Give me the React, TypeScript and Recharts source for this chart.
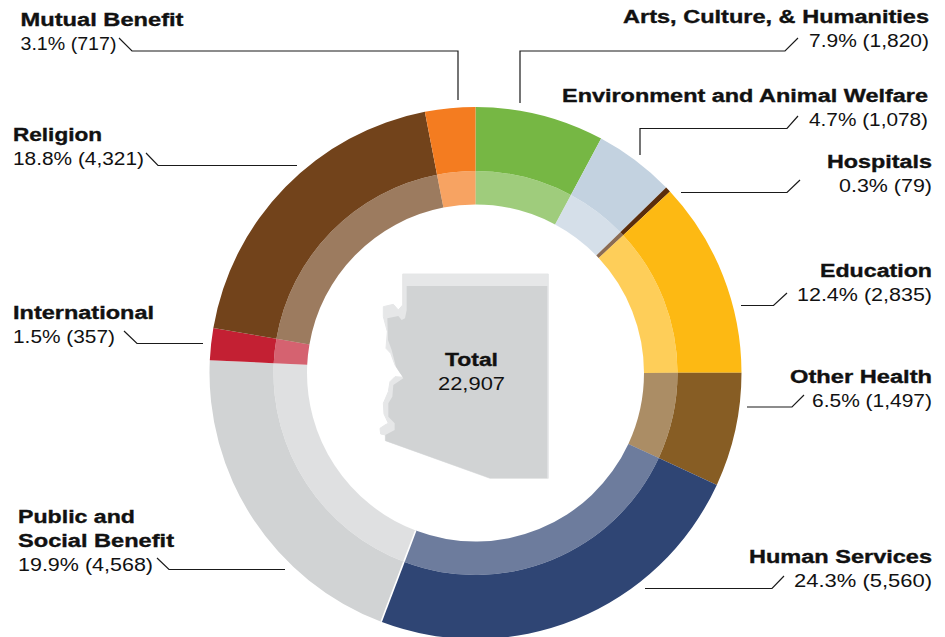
import { PieChart, Pie, Cell, Sector } from 'recharts';

const CATEGORIES = [
    ['Arts, Culture, & Humanities'],
    ['Environment and Animal Welfare'],
    ['Hospitals'],
    ['Education'],
    ['Other Health'],
    ['Human Services'],
    ['Public and', 'Social Benefit'],
    ['International'],
    ['Religion'],
    ['Mutual Benefit'],
];
const PERCENT_LABELS = ['7.9%', '4.7%', '0.3%', '12.4%', '6.5%', '24.3%', '19.9%', '1.5%', '18.8%', '3.1%'];
const COUNT_LABELS = ['1,820', '1,078', '79', '2,835', '1,497', '5,560', '4,568', '357', '4,321', '717'];

// arc shares as measured on the picture, they differ slightly from the printed percentages
const ARC_SHARES = [7.83, 4.89, 0.33, 11.94, 6.92, 23.86, 20.0, 1.94, 19.24, 3.05];

const COLORS = [
    '#76b744', // Arts
    '#c3d2e0', // Environment
    '#5a2d0c', // Hospitals
    '#fdb913', // Education
    '#875d24', // Other Health
    '#2f4574', // Human Services
    '#d1d3d4', // Public and Social Benefit
    '#c32033', // International
    '#72431b', // Religion
    '#f47c20', // Mutual Benefit
];

// label anchor: x, baseline of first line, anchor side, text widths (the source type is an extended grotesque), leader polyline
const LABEL_LAYOUT: { x: number; y: number; anchor: 'start' | 'end'; nameW: number[]; valueW: number; leader: string }[] = [
    { x: 929, y: 23, anchor: 'end', nameW: [306], valueW: 120, leader: '520,103 520,51 785,51 798,38' },
    { x: 928, y: 102, anchor: 'end', nameW: [366], valueW: 119, leader: '640,155 640,128.5 787,128.5 798,116' },
    { x: 932, y: 168, anchor: 'end', nameW: [105], valueW: 93, leader: '681,192.5 787,192.5 800,180' },
    { x: 932, y: 277, anchor: 'end', nameW: [112], valueW: 135, leader: '741,305.5 773.5,305.5 787,293' },
    { x: 932, y: 383, anchor: 'end', nameW: [142], valueW: 120, leader: '747,407 792,407 804,395' },
    { x: 932, y: 563, anchor: 'end', nameW: [183], valueW: 138, leader: '645,588.5 772,588.5 784,576' },
    { x: 18, y: 523, anchor: 'start', nameW: [117, 156], valueW: 135, leader: '285,569.5 169,569.5 157,558' },
    { x: 13, y: 319, anchor: 'start', nameW: [141], valueW: 102, leader: '203,343.5 137,343.5 124,331' },
    { x: 13, y: 141, anchor: 'start', nameW: [89], valueW: 131, leader: '297,165.5 158,165.5 146,153' },
    { x: 20.5, y: 26, anchor: 'start', nameW: [163], valueW: 96, leader: '458,100 458,51 132,51 119,38' },
];

const FONT = '"Liberation Sans", Arial, sans-serif';
const LINE = 24;
const SEAM_SLICE = 'Public and Social Benefit';

const chartData = CATEGORIES.map((name, i) => ({ name: name.join(' '), share: ARC_SHARES[i] }));

function FittedText({ x, y, anchor, width, bold, children }: any) {
    return (
        <text
            x={x}
            y={y}
            textAnchor={anchor}
            textLength={width}
            lengthAdjust="spacingAndGlyphs"
            fontFamily={FONT}
            fontSize={18}
            fontWeight={bold ? 700 : 400}
            fill="#111"
            stroke={bold ? '#111' : 'none'}
            strokeWidth={bold ? 0.35 : 0}
        >
            {children}
        </text>
    );
}

const renderLabel = ({ index }: any) => {
    const pos = LABEL_LAYOUT[index];
    const lines = CATEGORIES[index];
    return (
        <g key={`label-${index}`}>
            <polyline points={pos.leader} fill="none" stroke="#1a1a1a" strokeWidth={1.2} />
            {lines.map((line, i) => (
                <FittedText key={line} x={pos.x} y={pos.y + i * LINE} anchor={pos.anchor} width={pos.nameW[i]} bold>
                    {line}
                </FittedText>
            ))}
            <FittedText x={pos.x} y={pos.y + lines.length * LINE} anchor={pos.anchor} width={pos.valueW}>
                {`${PERCENT_LABELS[index]} (${COUNT_LABELS[index]})`}
            </FittedText>
        </g>
    );
};

// the white gap only exists between Human Services and Public and Social Benefit
const renderSlice = (props: any) => {
    const { cx, cy, innerRadius, outerRadius, startAngle, name } = props;
    const rad = (-startAngle * Math.PI) / 180;
    return (
        <g>
            <Sector {...props} stroke="none" />
            {name === SEAM_SLICE && (
                <line
                    x1={cx + innerRadius * Math.cos(rad)}
                    y1={cy + innerRadius * Math.sin(rad)}
                    x2={cx + outerRadius * Math.cos(rad)}
                    y2={cy + outerRadius * Math.sin(rad)}
                    stroke="#fff"
                    strokeWidth={1.6}
                />
            )}
        </g>
    );
};

// Arizona outline, traced in a 3x crop whose origin is (360, 260)
const STATE_LIGHT =
    'M128 42 L565 42 L565 655 L390 655 L76 542 L76 525 L62 522 L60 505 L75 495 L85 490 L72 462 L70 430 L85 395 L90 365 L105 350 L132 352 L118 335 L105 315 L92 280 L78 265 L82 215 L70 170 L70 140 L100 133 L115 150 L128 135 Z';
const STATE_MAIN =
    'M140 78 L562 78 L562 655 L390 655 L76 542 L76 525 L104 510 L104 490 L85 470 L85 430 L97 410 L100 375 L130 355 L108 320 L95 270 L84 240 L82 175 L115 168 L125 180 L135 175 L140 150 Z';

export default function App() {
    return (
        <div style={{ position: 'absolute', left: 0, top: 0, width: 945, height: 637, overflow: 'hidden' }}>
            <PieChart width={945} height={637} margin={{ top: 0, right: 0, bottom: 0, left: 0 }}>
                <g transform="translate(360 260) scale(0.3333)">
                    <path d={STATE_LIGHT} fill="#e6e7e8" stroke="#e6e7e8" strokeWidth={3} strokeLinejoin="round" />
                    <path d={STATE_MAIN} fill="#d1d3d4" />
                </g>
                <Pie
                    data={chartData}
                    dataKey="share"
                    cx={475.5}
                    cy={373}
                    startAngle={90}
                    endAngle={-270}
                    innerRadius={168.5}
                    outerRadius={202}
                    fillOpacity={0.7}
                    shape={renderSlice}
                    isAnimationActive={false}
                >
                    {chartData.map((entry, index) => (
                        <Cell key={`inner-${index}`} fill={COLORS[index]} />
                    ))}
                </Pie>
                <Pie
                    data={chartData}
                    dataKey="share"
                    cx={475.5}
                    cy={373}
                    startAngle={90}
                    endAngle={-270}
                    innerRadius={202}
                    outerRadius={266}
                    labelLine={false}
                    label={renderLabel}
                    shape={renderSlice}
                    isAnimationActive={false}
                >
                    {chartData.map((entry, index) => (
                        <Cell key={`outer-${index}`} fill={COLORS[index]} />
                    ))}
                </Pie>
                <FittedText x={471.5} y={366} anchor="middle" width={53} bold>
                    Total
                </FittedText>
                <FittedText x={471.5} y={390} anchor="middle" width={67}>
                    22,907
                </FittedText>
            </PieChart>
        </div>
    );
}
